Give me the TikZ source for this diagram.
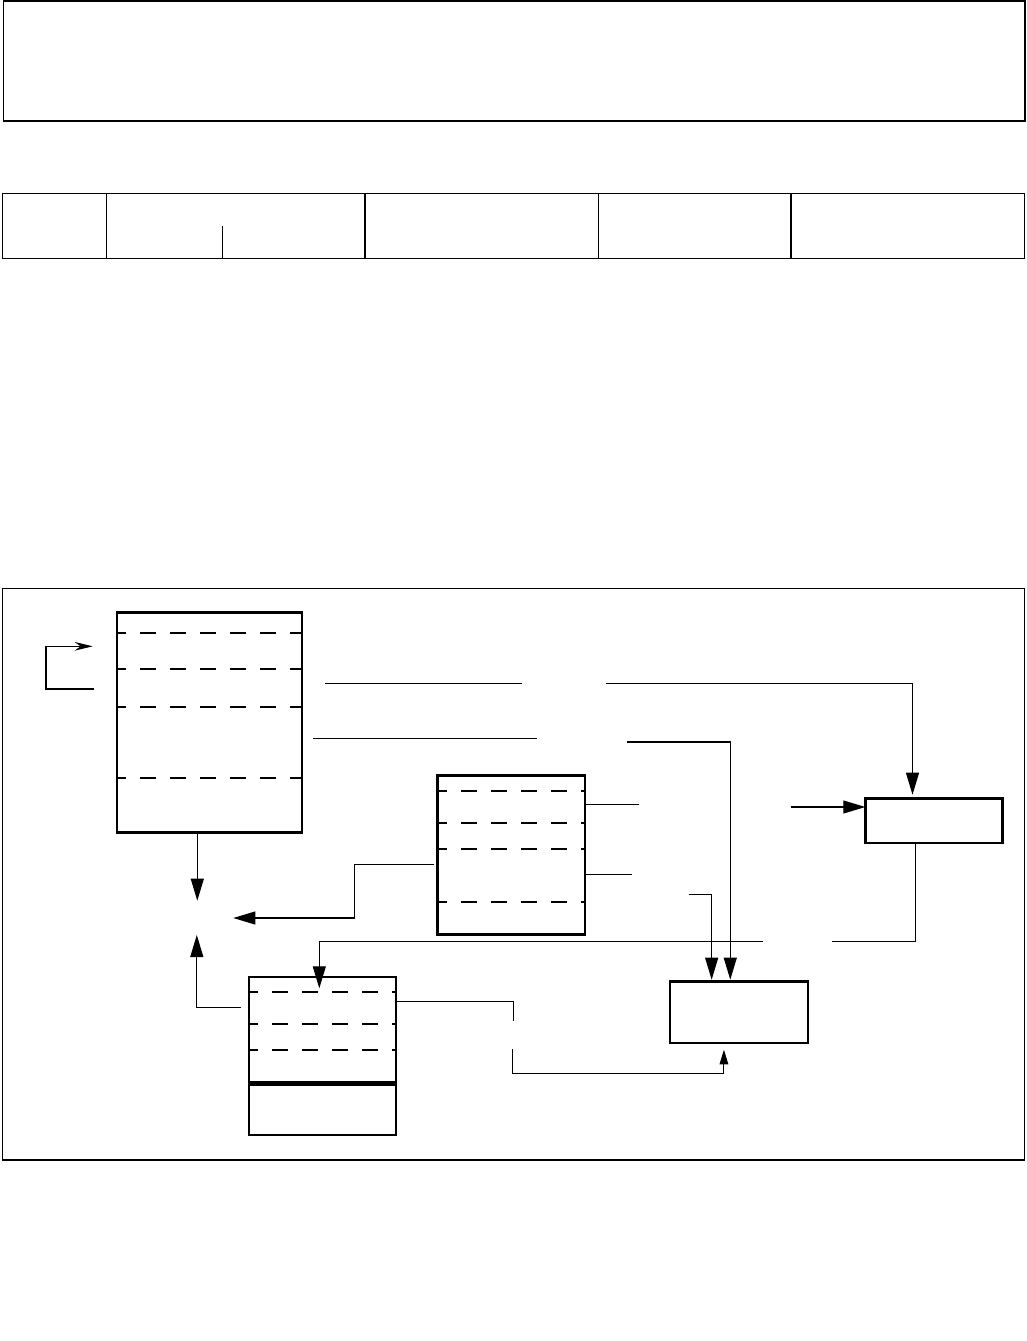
\documentclass[tikz,border=0pt]{standalone}
\usepackage{tikz}
\usetikzlibrary{arrows.meta}

\begin{document}
\begin{tikzpicture}[x=0.75pt, y=-0.75pt,
	box/.style={draw, line width=1.85pt, inner sep=0pt, outer sep=0pt, anchor=north west},
	sep/.style={line width=1.7pt, dash pattern=on 11.8pt off 10.7pt, dash phase=5pt},
	wire/.style={line width=0.8pt},
	frame/.style={line width=0.9pt},
	>={Triangle[length=16.5pt, width=9.75pt]}]
	\useasboundingbox (0,0) rectangle (1027,1341);
	% header box and field row
	\draw[frame] (3.3,1) rectangle (1025,121);
	\draw[frame] (2.7,193.5) rectangle (1024.3,258.3);
	\foreach \x in {106.8,365,598.3,791} {\draw[frame] (\x,193.5) -- (\x,258.3);}
	\draw[wire] (222.8,226) -- (222.8,258.3);
	% lower panel
	\draw[frame] (2.3,588.3) rectangle (1024.3,1160);
	\node[box, minimum width=138.75pt, minimum height=165pt] (regs) at (117,612.7) {};
	\node[box, minimum width=110.5pt, minimum height=119.1pt] (buf) at (437.7,775.7) {};
	\node[box, minimum width=110.25pt, minimum height=118.5pt] (mem) at (249,977) {};
	\node[box, minimum width=102.8pt, minimum height=33.2pt] (unitD) at (865.3,798.7) {};
	\node[box, minimum width=103.6pt, minimum height=46pt] (unitE) at (669.8,981.7) {};
	\foreach \y in {632.7,669,706.7,778} {\draw[sep] (regs.west |- 0,\y) -- (regs.east |- 0,\y);}
	\foreach \y in {790.7,822.7,848.7,902} {\draw[sep] (buf.west |- 0,\y) -- (buf.east |- 0,\y);}
	\foreach \y in {992,1024,1050} {\draw[sep] (mem.west |- 0,\y) -- (mem.east |- 0,\y);}
	\draw[line width=4pt] (mem.west |- 0,1083.7) -- ([xshift=1pt]mem.east |- 0,1083.7);
	% free ends
	\coordinate (loopa) at (93.7,689); \coordinate (loopb) at (92.7,646.3);
	\coordinate (l1a) at (325,683.6); \coordinate (l1b) at (521.9,683.6); \coordinate (l1c) at (606,683.6);
	\coordinate (l2a) at (313.3,738.6); \coordinate (l2b) at (537,738.6); \coordinate (l2c) at (627,742);
	\coordinate (l3b) at (639,804.3); \coordinate (l3c) at (790.6,807);
	\coordinate (l4b) at (632,874.3); \coordinate (l5a) at (688.5,894.3);
	\coordinate (mida) at (197.3,900.7); \coordinate (midb) at (233.3,918); \coordinate (midc) at (196.8,935);
	\coordinate (busa) at (762.5,941.3); \coordinate (busb) at (831.6,941.3);
	\coordinate (memin) at (319.3,988.3);
	\coordinate (outa) at (513.5,1020.7); \coordinate (outb) at (512.5,1049);
	% connectors
	\draw[wire, -{Stealth[length=13.5pt, width=6.5pt]}] (loopa) -- (46,689) |- (loopb);
	\draw[wire] (l1a) -- (l1b);
	\draw[wire, ->, shorten >=3pt] (l1c) -| ([xshift=-16pt]unitD.north);
	\draw[wire] (l2a) -- (l2b);
	\draw[wire, ->, shorten >=1.5pt] (l2c) -| ([xshift=-6.45pt]unitE.north);
	\draw[wire] (buf.east |- l3b) -- (l3b);
	\draw[wire, ->] (l3c) -- (unitD.west |- l3c);
	\draw[wire] (buf.east |- l4b) -- (l4b);
	\draw[wire, ->, shorten >=1.5pt] (l5a) -| ([xshift=-20.4pt]unitE.north);
	\draw[wire, ->, shorten <=3pt] (buf.west |- 0,864.3) -- (354.5,864.3) |- (midb);
	\draw[wire, ->] (regs.south -| mida) -- (mida);
	\draw[wire, ->, shorten <=6pt] (mem.west |- 0,1007.7) -| (midc);
	\draw[wire] ([xshift=-14pt]unitD.south) |- (busb);
	\draw[wire, ->] (busa) -| (memin);
	\draw[wire] (mem.east |- 0,1001.3) -| (outa);
	\draw[wire, -{Triangle[length=11pt, width=6.5pt]}, shorten >=5pt] (outb) |- ([xshift=-11.2pt, yshift=-22.7pt]unitE.south) -- ([xshift=-11.2pt]unitE.south);
\end{tikzpicture}
\end{document}
